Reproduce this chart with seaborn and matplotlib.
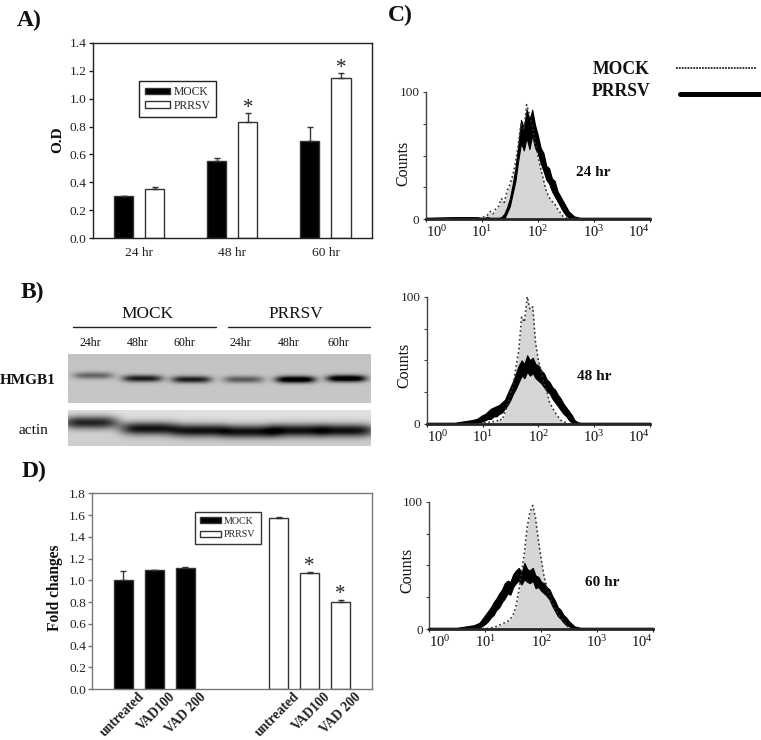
import numpy as np
import pandas as pd
import seaborn as sns
import matplotlib.pyplot as plt
from matplotlib.transforms import ScaledTranslation

W, H = 761, 740

# panel A
od_times = ['24 hr', '48 hr', '60 hr']
od_mock = [0.30, 0.55, 0.70]
od_mock_err = [0.005, 0.025, 0.10]
od_prrsv = [0.35, 0.83, 1.15]
od_prrsv_err = [0.02, 0.07, 0.035]
od_prrsv_star = [False, True, True]

# panel D
fold_labels = ['untreated', 'VAD100', 'VAD 200']
fold_mock = [1.00, 1.09, 1.11]
fold_mock_err = [0.085, 0.005, 0.015]
fold_prrsv = [1.57, 1.065, 0.80]
fold_prrsv_err = [0.01, 0.01, 0.02]
fold_prrsv_star = [False, True, True]

# panel B, band darkness per lane
blot_times = ['24hr', '48hr', '60hr', '24hr', '48hr', '60hr']
hmgb1_level = [0.38, 0.68, 0.68, 0.42, 0.9, 0.9]
hmgb1_lane = [25, 74, 123, 175, 227, 278]
hmgb1_row = [21, 24, 25, 25, 25, 24]
actin_level = [0.72, 0.78, 0.78, 0.78, 0.78, 0.78]
actin_lane = [22, 80, 131, 181, 229, 278]
actin_row = [12, 18, 20, 21, 20, 20]

# panel C, curves read on a log10 grid
decades = [0, 0.5, 0.8, 0.9,
           1.0, 1.05, 1.1, 1.15, 1.2, 1.25, 1.3, 1.35, 1.4, 1.45, 1.5, 1.55, 1.6, 1.65, 1.7, 1.75,
           1.8, 1.85, 1.9, 1.95, 2.0, 2.05, 2.1, 2.15, 2.2, 2.25, 2.3, 2.35, 2.4, 2.45, 2.5, 2.55,
           2.6, 2.65, 2.7, 2.75, 2.8, 3.0, 4.0]
mock_24 = [0, 0, 0, 0.5,
           1, 2, 3, 6, 4, 8, 10, 16, 13, 22, 27, 34, 44, 58, 76, 70,
           90, 82, 74, 60, 50, 40, 31, 22, 17, 14, 12, 8, 5, 2, 1, 0,
           0, 0, 0, 0, 0, 0, 0]
low_24 = [0, 0, 0, 0,
          0, 0, 0, 0, 0, 0, 0, 0, 0, 5, 10, 20, 30, 46, 60, 54,
          64, 55, 66, 56, 52, 44, 38, 31, 28, 22, 18, 14, 10, 6, 3, 1,
          0, 0, 0, 0, 0, 0, 0]
high_24 = [1, 1.5, 1.5, 1.5,
           1, 1, 1.5, 1, 1, 1, 1, 1.5, 4, 9, 16, 27, 40, 58, 78, 72,
           86, 78, 86, 74, 66, 56, 52, 42, 40, 32, 30, 22, 18, 14, 10, 6,
           4, 2, 1.5, 1, 1, 1, 1]
mock_48 = [0, 0, 0, 0,
           1, 1, 1.5, 1, 2, 2, 4, 3, 9, 15, 24, 30, 45, 58, 84, 80,
           100, 90, 92, 64, 50, 42, 32, 26, 17, 13, 9, 6, 3, 2, 1, 0,
           0, 0, 0, 0, 0, 0, 0]
low_48 = [0, 0, 0.5, 1,
          2, 3, 4, 4, 6, 6, 8, 9, 12, 15, 19, 24, 28, 33, 38, 36,
          41, 38, 40, 36, 34, 32, 29, 26, 24, 20, 17, 14, 11, 8, 6, 3,
          1, 0, 0, 0, 0, 0, 0]
high_48 = [1, 1, 3, 4,
           7, 8, 10, 12, 13, 14, 15, 17, 19, 24, 29, 34, 40, 46, 50, 47,
           54, 50, 52, 47, 46, 42, 40, 35, 33, 29, 27, 23, 20, 16, 13, 10,
           7, 3, 1.5, 1, 1, 1, 1]
mock_60 = [0, 0, 0, 0,
           0.5, 0.5, 1, 1, 2, 3, 4, 5, 6, 8, 11, 18, 30, 44, 60, 80,
           92, 97, 87, 70, 55, 42, 33, 26, 20, 16, 12, 9, 6, 3, 1, 0,
           0, 0, 0, 0, 0, 0, 0]
low_60 = [0, 0, 0.5, 1,
          4, 6, 9, 11, 15, 17, 21, 24, 28, 27, 33, 36, 38, 35, 39, 37,
          36, 38, 32, 33, 30, 28, 26, 23, 18, 14, 10, 8, 5, 3, 2, 1,
          0, 0, 0, 0, 0, 0, 0]
high_60 = [1, 1, 3, 5,
           11, 14, 17, 21, 24, 28, 31, 36, 38, 37, 43, 46, 48, 44, 52, 47,
           46, 48, 42, 41, 37, 36, 33, 31, 26, 22, 17, 15, 11, 9, 6, 4,
           2, 1.5, 1, 1, 1, 1, 1]

flow_panels = [
    ('24 hr', mock_24, low_24, high_24, (425.7, 92, 650, 219), (593, 172), (403, 163)),
    ('48 hr', mock_48, low_48, high_48, (426.7, 296.7, 650, 424), (594, 377), (404, 365)),
    ('60 hr', mock_60, low_60, high_60, (429.3, 501.7, 653, 629), (602, 582), (407, 570)),
]

sns.set_theme(style='ticks')
plt.rcParams['font.family'] = ['Liberation Serif', 'DejaVu Serif']
plt.rcParams['mathtext.fontset'] = 'stix'
plt.rcParams['axes.linewidth'] = 1.0

fig = plt.figure(figsize=(W / 100, H / 100), dpi=100)


def px_axes(x0, y0, x1, y1):
    '''axes from a pixel box, with y counted from the top of the image'''
    return fig.add_axes([x0 / W, 1 - y1 / H, (x1 - x0) / W, (y1 - y0) / H])


def add_errors(ax, errs, stars=None, gap=3):
    # error bars sit on the seaborn bars, one container per hue level
    for c, (cont, err) in enumerate(zip(ax.containers, errs)):
        for i, (bar, e) in enumerate(zip(cont, err)):
            xc = bar.get_x() + bar.get_width() / 2
            top = bar.get_height()
            ax.errorbar(xc, top, yerr=[[0], [e]], color='#333333', lw=1,
                        capsize=2.5, capthick=1)
            if stars is not None and c == 1 and stars[i]:
                ax.annotate('*', (xc, top + e), xytext=(0, gap), textcoords='offset points',
                            ha='center', va='center', fontsize=15, color='#222222')


def bar_style(ax, edge):
    for s in ax.spines.values():
        s.set_color(edge)
    ax.tick_params(axis='y', length=3, width=1, labelsize=9.7, color=edge, pad=1.5, labelcolor='#222222')
    ax.set_xlabel('')
    ax.set_ylabel('')


# panel A
df_a = pd.DataFrame({'time': od_times * 2,
                     'od': od_mock + od_prrsv,
                     'group': ['MOCK'] * 3 + ['PRRSV'] * 3})
ax_a = px_axes(92.7, 42.7, 372, 238.3)
sns.barplot(data=df_a, x='time', y='od', hue='group', palette={'MOCK': 'black', 'PRRSV': 'white'},
            width=0.667, gap=0.385, saturation=1, errorbar=None, edgecolor='#333333', linewidth=1, ax=ax_a)
add_errors(ax_a, [od_mock_err, od_prrsv_err], od_prrsv_star)
ax_a.set_xlim(-0.5, 2.5)
ax_a.set_ylim(0, 1.4)
ax_a.set_yticks(np.arange(0, 1.5, 0.2))
bar_style(ax_a, '#222222')
ax_a.tick_params(axis='x', length=0, labelsize=9.7, pad=6.5, labelcolor='#222222')
sns.move_legend(ax_a, 'upper left', bbox_to_anchor=(0.167, 0.805), title=None, frameon=True, fancybox=False,
                framealpha=1, edgecolor='#222222', fontsize=8.4, handlelength=2.15, handleheight=0.5,
                labelspacing=0.15, borderaxespad=0, borderpad=0.45, handletextpad=0.35)
ax_a.get_legend().get_frame().set_linewidth(1)

# panel D, two empty slots between the groups
mock_keys = ['MOCK ' + t for t in fold_labels]
prrsv_keys = ['PRRSV ' + t for t in fold_labels]
order_d = mock_keys + ['gap1', 'gap2'] + prrsv_keys
df_d = pd.DataFrame({'key': mock_keys + prrsv_keys,
                     'fold': fold_mock + fold_prrsv,
                     'group': ['MOCK'] * 3 + ['PRRSV'] * 3})
ax_d = px_axes(92.3, 493.3, 371.7, 689)
sns.barplot(data=df_d, x='key', y='fold', hue='group', order=order_d, dodge=False,
            palette={'MOCK': 'black', 'PRRSV': 'white'}, width=0.62, saturation=1, errorbar=None,
            edgecolor='#333333', linewidth=1, ax=ax_d)
add_errors(ax_d, [fold_mock_err, fold_prrsv_err], fold_prrsv_star, gap=4)
ax_d.set_xlim(-1, 8)
ax_d.set_ylim(0, 1.8)
ax_d.set_yticks(np.arange(0, 1.9, 0.2))
bar_style(ax_d, '#777777')
ax_d.set_xticks([0, 1, 2, 5, 6, 7])
ax_d.set_xticklabels(fold_labels * 2, rotation=45, ha='right', rotation_mode='anchor',
                     fontweight='bold', fontsize=9.8, color='#222222')
ax_d.tick_params(axis='x', length=0, pad=1)
# the labels end to the right of their bars
shift = ScaledTranslation(14 / 100, 0, fig.dpi_scale_trans)
for tl in ax_d.get_xticklabels():
    tl.set_transform(tl.get_transform() + shift)
sns.move_legend(ax_d, 'upper left', bbox_to_anchor=(0.368, 0.905), title=None, frameon=True, fancybox=False,
                framealpha=1, edgecolor='#333333', fontsize=7.2, handlelength=2.1, handleheight=0.5,
                labelspacing=0.45, borderaxespad=0, borderpad=0.5, handletextpad=0.3)
ax_d.get_legend().get_frame().set_linewidth(1)


# panel B blots
def blot_image(w, h, levels, lanes, rows, half_w, half_h, top, bottom):
    yy, xx = np.mgrid[0:h, 0:w]
    img = top + (bottom - top) * yy / (h - 1)
    dark = np.zeros_like(img)
    for lev, cx, cy in zip(levels, lanes, rows):
        dark += lev * np.exp(-((xx - cx) / half_w) ** 4) * np.exp(-((yy - cy) / half_h) ** 2)
    return np.clip(img - np.clip(dark, 0, 0.9), 0, 1)


blots = [
    ((67.7, 354.3, 370.7, 403.3), blot_image(303, 49, hmgb1_level, hmgb1_lane, hmgb1_row, 20, 3.5, 0.76, 0.78)),
    ((67.7, 410, 370.7, 445.7), blot_image(303, 36, actin_level, actin_lane, actin_row, 28, 6.5, 0.88, 0.80)),
]
for box, img in blots:
    ax_b = px_axes(*box)
    sns.heatmap(img, cmap='gray', vmin=0, vmax=1, cbar=False, xticklabels=False, yticklabels=False, ax=ax_b)

# panel C flow histograms
for label, mock, low, high, box, _, _ in flow_panels:
    ax = px_axes(*box)
    fl = 10 ** np.array(decades)
    ax.fill_between(fl, 0, mock, color='#d6d6d6', lw=0)
    sns.lineplot(x=fl, y=mock, color='#333333', lw=1.2, ls=':', ax=ax)
    ax.fill_between(fl, low, high, color='black', lw=0.8)
    ax.set_xscale('log')
    ax.set_xlim(1, 1e4)
    ax.set_ylim(0, 100)
    ax.set_yticks([0, 25, 50, 75, 100])
    ax.set_yticklabels(['0', '', '', '', '100'])
    ax.set_xticks([1, 10, 100, 1000, 10000])
    ax.minorticks_off()
    ax.patch.set_alpha(0)
    sns.despine(ax=ax)
    ax.spines['left'].set_color('#444444')
    ax.spines['bottom'].set_linewidth(2)
    ax.tick_params(axis='y', length=2.5, width=0.8, labelsize=9.5, pad=2, color='#444444', labelcolor='#222222')
    ax.tick_params(axis='x', length=2, width=0.8, labelsize=10.5, pad=2, labelcolor='#111111')
    tl = ax.get_xticklabels()
    tl[0].set_ha('left')
    tl[-1].set_ha('right')

# texts and lines placed in pixel space
over = fig.add_axes([0, 0, 1, 1])
over.set_xlim(0, W)
over.set_ylim(H, 0)
over.axis('off')
over.patch.set_alpha(0)


def put(x, y, s, size, bold=False, rot=0):
    over.text(x, y, s, fontsize=size, fontweight='bold' if bold else 'normal', rotation=rot,
              ha='center', va='center', color='#111111')


put(29, 20, 'A)', 17, True)
put(32, 292, 'B)', 17, True)
put(400, 15, 'C)', 17, True)
put(34, 471, 'D)', 17, True)
put(58, 140, 'O.D', 11, True, 90)
put(55, 588, 'Fold changes', 11.2, True, 90)

# panel B headings
put(147.7, 314, 'MOCK', 12.4)
put(296, 314, 'PRRSV', 12.4)
over.plot([73, 216], [326.7, 326.7], color='#222222', lw=1)
over.plot([228, 370], [326.7, 326.7], color='#222222', lw=1)
for x, t in zip([90.7, 138, 184, 240, 289, 338], blot_times):
    put(x, 343, t, 8.6)
put(28, 381, 'HMGB1', 11, True)
put(33, 430, 'actin', 11)

# panel C labels and key
for label, _, _, _, _, lab_xy, cnt_xy in flow_panels:
    put(lab_xy[0], lab_xy[1], label, 11, True)
    put(cnt_xy[0], cnt_xy[1], 'Counts', 11.5, False, 90)
put(621, 70, 'MOCK', 12.7, True)
put(621, 92, 'PRRSV', 12.7, True)
over.plot([676, 757], [67.5, 67.5], color='#222222', lw=1.3, ls=(0, (1, 0.6)))
over.plot([680, 761], [94, 94], color='black', lw=3.6)

fig.savefig('out.png', dpi=100)
plt.close()
